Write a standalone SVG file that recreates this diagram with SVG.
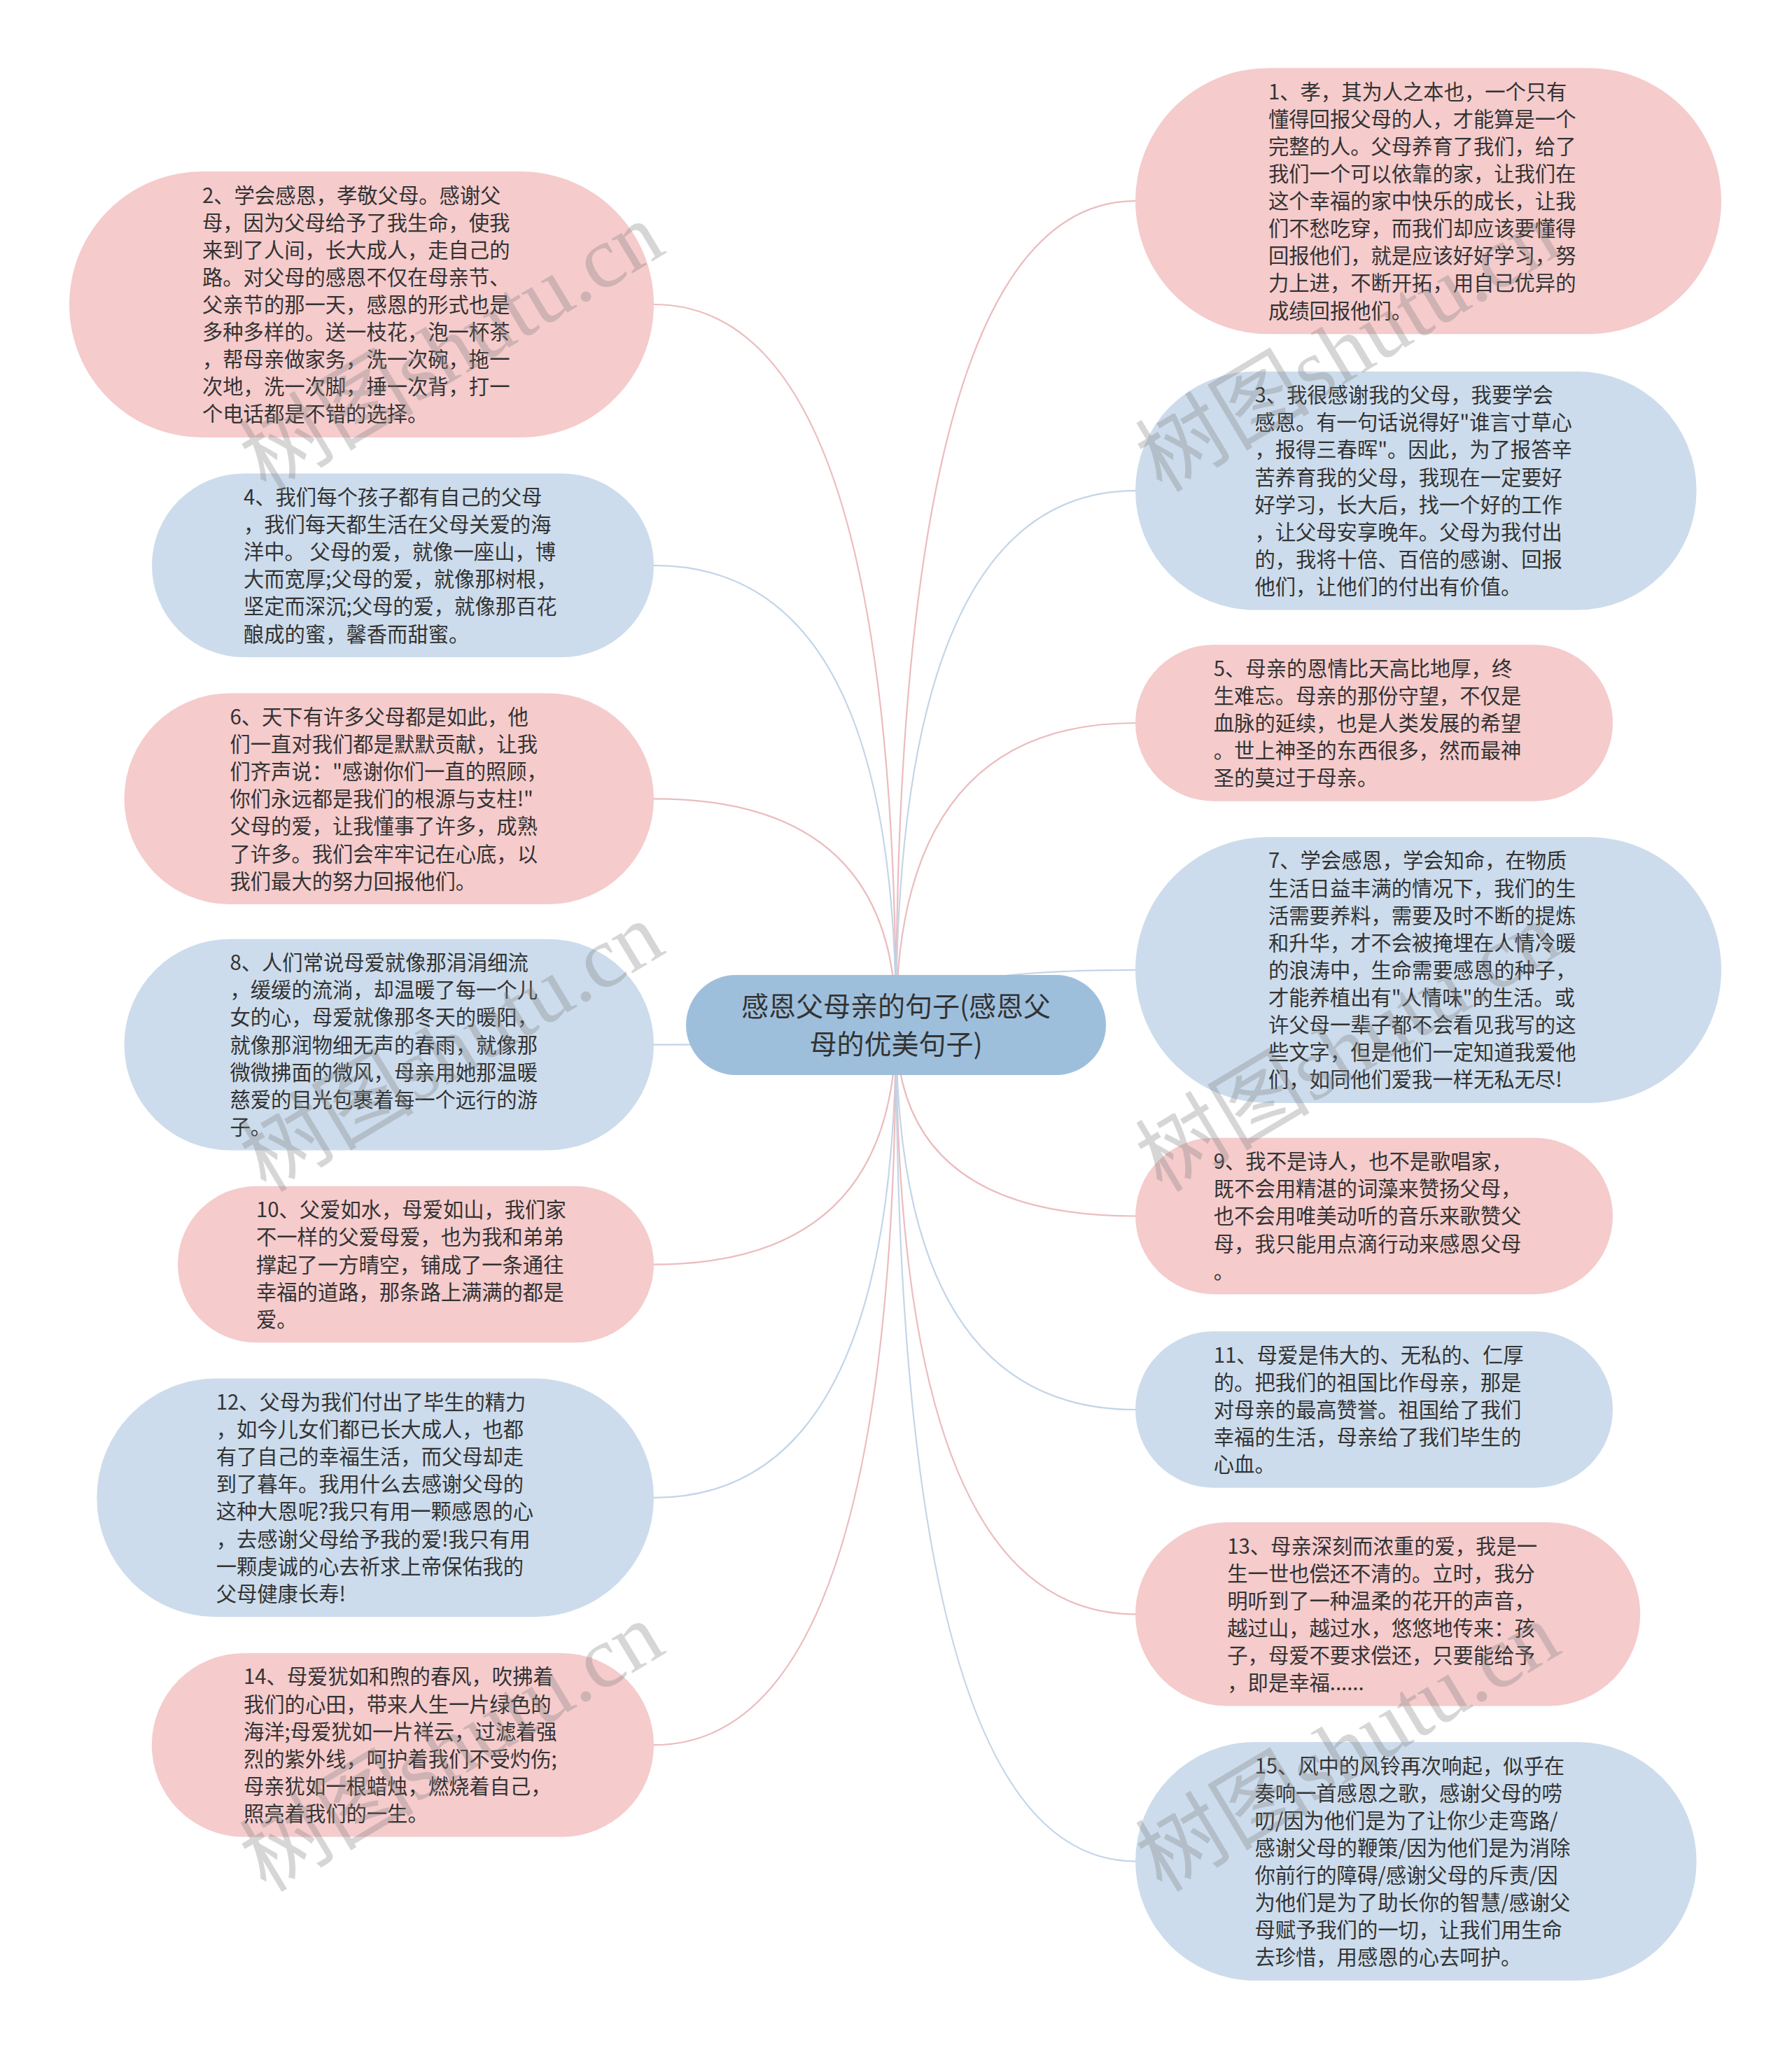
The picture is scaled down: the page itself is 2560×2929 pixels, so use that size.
<svg xmlns="http://www.w3.org/2000/svg" width="2560" height="2929" viewBox="0 0 2560 2929">
<style>
.bg{fill:#ffffff}
.pink{fill:#f5cbcc}
.blue{fill:#ccdcec}
.root{fill:#9ebfdc}
.ep{fill:none;stroke:#ecbcbe;stroke-width:2.2}
.eb{fill:none;stroke:#c3d5e8;stroke-width:2.2}
.t{font-family:"Noto Sans CJK SC","Noto Sans",sans-serif;font-size:29.3px;fill:#333333}
.rt{font-family:"Noto Sans CJK SC","Noto Sans",sans-serif;font-size:39px;fill:#333333;text-anchor:middle}
.wm{font-family:"Liberation Serif","Noto Sans CJK SC",serif;font-size:125px;fill:#808080;fill-opacity:0.32}
</style>
<rect class="bg" x="0" y="0" width="2560" height="2929"/>
<g id="connectors">
<path class="ep" d="M1280,1464 Q1280,435 934,435"/>
<path class="eb" d="M1280,1464 Q1280,807.8 934,807.8"/>
<path class="ep" d="M1280,1464 Q1280,1141.3 934,1141.3"/>
<path class="eb" d="M1280,1464 Q1280,1492.6 934,1492.6"/>
<path class="ep" d="M1280,1464 Q1280,1806.6 934,1806.6"/>
<path class="eb" d="M1280,1464 Q1280,2139.9 934,2139.9"/>
<path class="ep" d="M1280,1464 Q1280,2493.2 934,2493.2"/>
<path class="ep" d="M1280,1464 Q1280,287.2 1622,287.2"/>
<path class="eb" d="M1280,1464 Q1280,701.1 1622,701.1"/>
<path class="ep" d="M1280,1464 Q1280,1033 1622,1033"/>
<path class="eb" d="M1280,1464 Q1280,1385.9 1622,1385.9"/>
<path class="ep" d="M1280,1464 Q1280,1737.5 1622,1737.5"/>
<path class="eb" d="M1280,1464 Q1280,2014 1622,2014"/>
<path class="ep" d="M1280,1464 Q1280,2306.3 1622,2306.3"/>
<path class="eb" d="M1280,1464 Q1280,2659.4 1622,2659.4"/>
</g>
<g id="root">
<rect class="root" x="980" y="1393" width="600" height="143" rx="71.5"/>
<text class="rt" x="1280" y="1452">感恩父母亲的句子(感恩父</text>
<text class="rt" x="1280" y="1506">母的优美句子)</text>
</g>
<g id="n2">
<rect class="pink" x="99" y="245" width="835" height="380" rx="190"/>
<text class="t" x="289" y="289.5"><tspan x="289">2、学会感恩，孝敬父母。感谢父</tspan><tspan x="289" dy="39.1">母，因为父母给予了我生命，使我</tspan><tspan x="289" dy="39.1">来到了人间，长大成人，走自己的</tspan><tspan x="289" dy="39.1">路。对父母的感恩不仅在母亲节、</tspan><tspan x="289" dy="39.1">父亲节的那一天，感恩的形式也是</tspan><tspan x="289" dy="39.1">多种多样的。送一枝花，泡一杯茶</tspan><tspan x="289" dy="39.1">，帮母亲做家务，洗一次碗，拖一</tspan><tspan x="289" dy="39.1">次地，洗一次脚，捶一次背，打一</tspan><tspan x="289" dy="39.1">个电话都是不错的选择。</tspan></text>
</g>
<g id="n4">
<rect class="blue" x="217" y="676.5" width="717" height="262.6" rx="131.3"/>
<text class="t" x="348" y="721"><tspan x="348">4、我们每个孩子都有自己的父母</tspan><tspan x="348" dy="39.1">，我们每天都生活在父母关爱的海</tspan><tspan x="348" dy="39.1">洋中。 父母的爱，就像一座山，博</tspan><tspan x="348" dy="39.1">大而宽厚;父母的爱，就像那树根，</tspan><tspan x="348" dy="39.1">坚定而深沉;父母的爱，就像那百花</tspan><tspan x="348" dy="39.1">酿成的蜜，馨香而甜蜜。</tspan></text>
</g>
<g id="n6">
<rect class="pink" x="177.5" y="990.4" width="756.5" height="301.7" rx="150.85"/>
<text class="t" x="328.5" y="1035"><tspan x="328.5">6、天下有许多父母都是如此，他</tspan><tspan x="328.5" dy="39.1">们一直对我们都是默默贡献，让我</tspan><tspan x="328.5" dy="39.1">们齐声说："感谢你们一直的照顾，</tspan><tspan x="328.5" dy="39.1">你们永远都是我们的根源与支柱!"</tspan><tspan x="328.5" dy="39.1">父母的爱，让我懂事了许多，成熟</tspan><tspan x="328.5" dy="39.1">了许多。我们会牢牢记在心底，以</tspan><tspan x="328.5" dy="39.1">我们最大的努力回报他们。</tspan></text>
</g>
<g id="n8">
<rect class="blue" x="177.5" y="1341.7" width="756.5" height="301.7" rx="150.85"/>
<text class="t" x="328.5" y="1386.2"><tspan x="328.5">8、人们常说母爱就像那涓涓细流</tspan><tspan x="328.5" dy="39.1">，缓缓的流淌，却温暖了每一个儿</tspan><tspan x="328.5" dy="39.1">女的心，母爱就像那冬天的暖阳，</tspan><tspan x="328.5" dy="39.1">就像那润物细无声的春雨，就像那</tspan><tspan x="328.5" dy="39.1">微微拂面的微风，母亲用她那温暖</tspan><tspan x="328.5" dy="39.1">慈爱的目光包裹着每一个远行的游</tspan><tspan x="328.5" dy="39.1">子。</tspan></text>
</g>
<g id="n10">
<rect class="pink" x="254" y="1694.8" width="680" height="223.5" rx="111.75"/>
<text class="t" x="366" y="1739.3"><tspan x="366">10、父爱如水，母爱如山，我们家</tspan><tspan x="366" dy="39.1">不一样的父爱母爱，也为我和弟弟</tspan><tspan x="366" dy="39.1">撑起了一方晴空，铺成了一条通往</tspan><tspan x="366" dy="39.1">幸福的道路，那条路上满满的都是</tspan><tspan x="366" dy="39.1">爱。</tspan></text>
</g>
<g id="n12">
<rect class="blue" x="138.3" y="1969.5" width="795.7" height="340.8" rx="170.4"/>
<text class="t" x="308.7" y="2014"><tspan x="308.7">12、父母为我们付出了毕生的精力</tspan><tspan x="308.7" dy="39.1">，如今儿女们都已长大成人，也都</tspan><tspan x="308.7" dy="39.1">有了自己的幸福生活，而父母却走</tspan><tspan x="308.7" dy="39.1">到了暮年。我用什么去感谢父母的</tspan><tspan x="308.7" dy="39.1">这种大恩呢?我只有用一颗感恩的心</tspan><tspan x="308.7" dy="39.1">，去感谢父母给予我的爱!我只有用</tspan><tspan x="308.7" dy="39.1">一颗虔诚的心去祈求上帝保佑我的</tspan><tspan x="308.7" dy="39.1">父母健康长寿!</tspan></text>
</g>
<g id="n14">
<rect class="pink" x="216.8" y="2361.9" width="717.2" height="262.6" rx="131.3"/>
<text class="t" x="348" y="2406.4"><tspan x="348">14、母爱犹如和煦的春风，吹拂着</tspan><tspan x="348" dy="39.1">我们的心田，带来人生一片绿色的</tspan><tspan x="348" dy="39.1">海洋;母爱犹如一片祥云，过滤着强</tspan><tspan x="348" dy="39.1">烈的紫外线，呵护着我们不受灼伤;</tspan><tspan x="348" dy="39.1">母亲犹如一根蜡烛，燃烧着自己，</tspan><tspan x="348" dy="39.1">照亮着我们的一生。</tspan></text>
</g>
<g id="n1">
<rect class="pink" x="1622" y="97.2" width="837" height="380" rx="190"/>
<text class="t" x="1812" y="141.7"><tspan x="1812">1、孝，其为人之本也，一个只有</tspan><tspan x="1812" dy="39.1">懂得回报父母的人，才能算是一个</tspan><tspan x="1812" dy="39.1">完整的人。父母养育了我们，给了</tspan><tspan x="1812" dy="39.1">我们一个可以依靠的家，让我们在</tspan><tspan x="1812" dy="39.1">这个幸福的家中快乐的成长，让我</tspan><tspan x="1812" dy="39.1">们不愁吃穿，而我们却应该要懂得</tspan><tspan x="1812" dy="39.1">回报他们，就是应该好好学习，努</tspan><tspan x="1812" dy="39.1">力上进，不断开拓，用自己优异的</tspan><tspan x="1812" dy="39.1">成绩回报他们。</tspan></text>
</g>
<g id="n3">
<rect class="blue" x="1622" y="530.7" width="801.6" height="340.8" rx="170.4"/>
<text class="t" x="1792.4" y="575.2"><tspan x="1792.4">3、我很感谢我的父母，我要学会</tspan><tspan x="1792.4" dy="39.1">感恩。有一句话说得好"谁言寸草心</tspan><tspan x="1792.4" dy="39.1">，报得三春晖"。因此，为了报答辛</tspan><tspan x="1792.4" dy="39.1">苦养育我的父母，我现在一定要好</tspan><tspan x="1792.4" dy="39.1">好学习，长大后，找一个好的工作</tspan><tspan x="1792.4" dy="39.1">，让父母安享晚年。父母为我付出</tspan><tspan x="1792.4" dy="39.1">的，我将十倍、百倍的感谢、回报</tspan><tspan x="1792.4" dy="39.1">他们，让他们的付出有价值。</tspan></text>
</g>
<g id="n5">
<rect class="pink" x="1622" y="921.2" width="682" height="223.5" rx="111.75"/>
<text class="t" x="1733.8" y="965.7"><tspan x="1733.8">5、母亲的恩情比天高比地厚，终</tspan><tspan x="1733.8" dy="39.1">生难忘。母亲的那份守望，不仅是</tspan><tspan x="1733.8" dy="39.1">血脉的延续，也是人类发展的希望</tspan><tspan x="1733.8" dy="39.1">。世上神圣的东西很多，然而最神</tspan><tspan x="1733.8" dy="39.1">圣的莫过于母亲。</tspan></text>
</g>
<g id="n7">
<rect class="blue" x="1622" y="1195.9" width="837" height="380" rx="190"/>
<text class="t" x="1812" y="1240.4"><tspan x="1812">7、学会感恩，学会知命，在物质</tspan><tspan x="1812" dy="39.1">生活日益丰满的情况下，我们的生</tspan><tspan x="1812" dy="39.1">活需要养料，需要及时不断的提炼</tspan><tspan x="1812" dy="39.1">和升华，才不会被掩埋在人情冷暖</tspan><tspan x="1812" dy="39.1">的浪涛中，生命需要感恩的种子，</tspan><tspan x="1812" dy="39.1">才能养植出有"人情味"的生活。或</tspan><tspan x="1812" dy="39.1">许父母一辈子都不会看见我写的这</tspan><tspan x="1812" dy="39.1">些文字，但是他们一定知道我爱他</tspan><tspan x="1812" dy="39.1">们，如同他们爱我一样无私无尽!</tspan></text>
</g>
<g id="n9">
<rect class="pink" x="1622" y="1625.7" width="682" height="223.5" rx="111.75"/>
<text class="t" x="1733.8" y="1670.2"><tspan x="1733.8">9、我不是诗人，也不是歌唱家，</tspan><tspan x="1733.8" dy="39.1">既不会用精湛的词藻来赞扬父母，</tspan><tspan x="1733.8" dy="39.1">也不会用唯美动听的音乐来歌赞父</tspan><tspan x="1733.8" dy="39.1">母，我只能用点滴行动来感恩父母</tspan><tspan x="1733.8" dy="39.1">。</tspan></text>
</g>
<g id="n11">
<rect class="blue" x="1622" y="1902.2" width="682" height="223.5" rx="111.75"/>
<text class="t" x="1733.8" y="1946.7"><tspan x="1733.8">11、母爱是伟大的、无私的、仁厚</tspan><tspan x="1733.8" dy="39.1">的。把我们的祖国比作母亲，那是</tspan><tspan x="1733.8" dy="39.1">对母亲的最高赞誉。祖国给了我们</tspan><tspan x="1733.8" dy="39.1">幸福的生活，母亲给了我们毕生的</tspan><tspan x="1733.8" dy="39.1">心血。</tspan></text>
</g>
<g id="n13">
<rect class="pink" x="1622" y="2175" width="721.2" height="262.6" rx="131.3"/>
<text class="t" x="1753.3" y="2219.5"><tspan x="1753.3">13、母亲深刻而浓重的爱，我是一</tspan><tspan x="1753.3" dy="39.1">生一世也偿还不清的。立时，我分</tspan><tspan x="1753.3" dy="39.1">明听到了一种温柔的花开的声音，</tspan><tspan x="1753.3" dy="39.1">越过山，越过水，悠悠地传来：孩</tspan><tspan x="1753.3" dy="39.1">子，母爱不要求偿还，只要能给予</tspan><tspan x="1753.3" dy="39.1">，即是幸福......</tspan></text>
</g>
<g id="n15">
<rect class="blue" x="1622" y="2489" width="801.6" height="340.8" rx="170.4"/>
<text class="t" x="1792.4" y="2533.5"><tspan x="1792.4">15、风中的风铃再次响起，似乎在</tspan><tspan x="1792.4" dy="39.1">奏响一首感恩之歌，感谢父母的唠</tspan><tspan x="1792.4" dy="39.1">叨/因为他们是为了让你少走弯路/</tspan><tspan x="1792.4" dy="39.1">感谢父母的鞭策/因为他们是为消除</tspan><tspan x="1792.4" dy="39.1">你前行的障碍/感谢父母的斥责/因</tspan><tspan x="1792.4" dy="39.1">为他们是为了助长你的智慧/感谢父</tspan><tspan x="1792.4" dy="39.1">母赋予我们的一切，让我们用生命</tspan><tspan x="1792.4" dy="39.1">去珍惜，用感恩的心去呵护。</tspan></text>
</g>
<g id="watermarks">
<text class="wm" transform="translate(380,705) rotate(-31)">树图shutu.cn</text>
<text class="wm" transform="translate(1660,705) rotate(-31)">树图shutu.cn</text>
<text class="wm" transform="translate(380,1705) rotate(-31)">树图shutu.cn</text>
<text class="wm" transform="translate(1660,1705) rotate(-31)">树图shutu.cn</text>
<text class="wm" transform="translate(380,2705) rotate(-31)">树图shutu.cn</text>
<text class="wm" transform="translate(1660,2705) rotate(-31)">树图shutu.cn</text>
</g>
</svg>
